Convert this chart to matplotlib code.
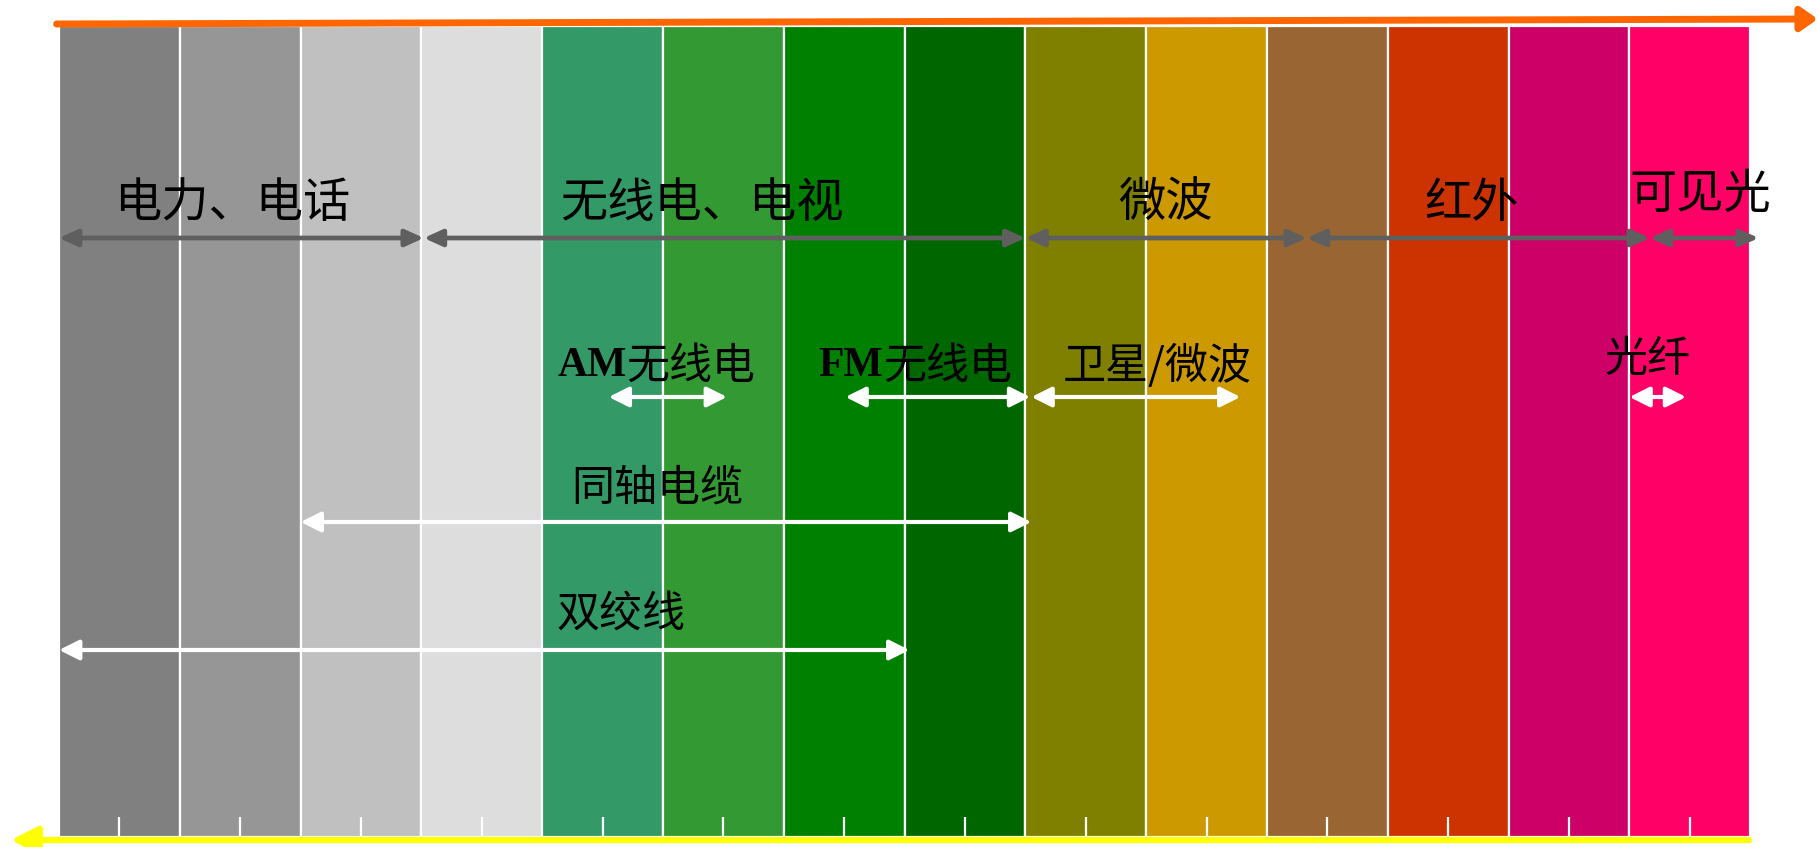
import matplotlib.pyplot as plt

plt.rcParams['font.family'] = ['Noto Sans CJK SC', 'DejaVu Sans']

# 14 spectrum bands, left to right
band_colors = ['#808080', '#969696', '#C0C0C0', '#DDDDDD', '#339966', '#339933', '#008000',
               '#006600', '#808000', '#CC9900', '#996633', '#CC3300', '#CC0066', '#FF0066']

# top level ranges (start band, end band), labels and label positions
top_ranges = [(0.0, 3.02), (3.02, 8.0), (8.0, 10.33), (10.33, 13.17), (13.17, 14.07)]
top_labels = ['电力、电话', '无线电、电视', '微波', '红外', '可见光']
top_label_x = [1.43, 5.32, 9.16, 11.69, 13.59]
top_label_y = [204, 204, 204, 204, 195]

# media ranges (white arrows)
media_ranges = [(4.55, 5.53), (6.51, 8.04), (8.05, 9.78), (13.0, 13.47), (2.0, 8.05), (0.0, 7.04)]
media_arrow_y = [397, 397, 397, 397, 522, 650]
media_labels = ['同轴电缆', '双绞线', '卫星/微波', '光纤']
media_label_x = [4.95, 4.65, 9.09, 13.15]
media_label_y = [489, 616, 367, 360]
# labels with a bold latin prefix
prefix_labels = [('AM', '无线电'), ('FM', '无线电')]
prefix_split_x = [4.70, 6.82]
prefix_y = 366

BAND_TOP, BAND_BOTTOM = 26, 837
TICK_LEN = 20

fig = plt.figure(figsize=(18.18, 8.47), dpi=100)
ax = fig.add_axes([0, 0, 1, 1])
ax.set_xlim(-59 / 120.8, (1818 - 59) / 120.8)
ax.set_ylim(847, 0)
ax.axis('off')

n = len(band_colors)
centers = [i + 0.5 for i in range(n)]
ax.bar(centers, BAND_BOTTOM - BAND_TOP, bottom=BAND_TOP, width=1.0,
       color=band_colors, edgecolor='white', linewidth=1.6, zorder=1)

# small ticks at the bottom of each band
ax.vlines(centers, BAND_BOTTOM - TICK_LEN, BAND_BOTTOM, color='white', lw=1.6, zorder=2)


def arrow(x0, y0, x1, y1, style, color, lw, scale=20):
    ax.annotate('', xy=(x1, y1), xytext=(x0, y0),
                arrowprops=dict(arrowstyle=style, color=color, lw=lw,
                                shrinkA=0, shrinkB=0, mutation_scale=scale),
                zorder=3)


# orange frequency axis on top, yellow one at the bottom
arrow(-0.02, 24, 14.56, 19, '-|>,head_length=0.5,head_width=0.35', '#FF6600', 5)
arrow(13.99, 840, -0.40, 840, '-|>,head_length=0.8,head_width=0.4', '#FFFF00', 4.5)

# top level ranges
for (a, b) in top_ranges:
    arrow(a, 238, b, 238, '<|-|>,head_length=0.55,head_width=0.25', '#5F5F5F', 3.4)
for lab, x, y in zip(top_labels, top_label_x, top_label_y):
    ax.text(x, y, lab, fontsize=34, ha='center', va='center', zorder=4)

# transmission media
for (a, b), y in zip(media_ranges, media_arrow_y):
    arrow(a, y, b, y, '<|-|>,head_length=0.6,head_width=0.3', 'white', 3)
for lab, x, y in zip(media_labels, media_label_x, media_label_y):
    ax.text(x, y, lab, fontsize=31, ha='center', va='center', zorder=4)
for (pre, rest), x in zip(prefix_labels, prefix_split_x):
    ax.text(x, prefix_y, pre, fontsize=30, ha='right', va='center', zorder=4,
            family='Liberation Serif', fontweight='bold')
    ax.text(x, prefix_y + 1, rest, fontsize=31, ha='left', va='center', zorder=4)

fig.savefig('out.png', dpi=100)
